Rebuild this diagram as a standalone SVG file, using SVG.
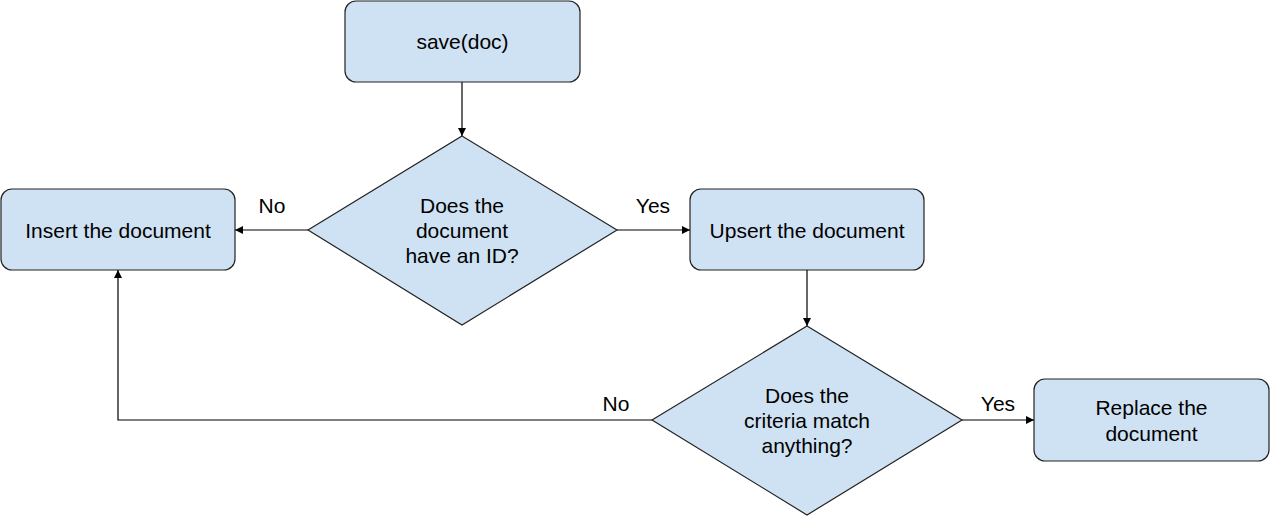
<svg xmlns="http://www.w3.org/2000/svg" width="1270" height="516" viewBox="0 0 1270 516">
<style>
.n{fill:#cfe2f3;stroke:#222;stroke-width:1.2}
.t{font-family:"Liberation Sans",Arial,sans-serif;font-size:21px;fill:#000;text-anchor:middle}
.c{fill:none;stroke:#000;stroke-width:1.2;marker-end:url(#a)}
</style>
<defs>
<marker id="a" viewBox="0 0 10 10" refX="10" refY="5" markerWidth="8" markerHeight="8" markerUnits="userSpaceOnUse" orient="auto"><path d="M0,0L10,5L0,10z" fill="#000"/></marker>
</defs>
<rect width="1270" height="516" fill="#fff"/>
<g id="connectors">
<path class="c" d="M462,82V136"/>
<path class="c" d="M308,230H235"/>
<path class="c" d="M617,230H690"/>
<path class="c" d="M807,270V326"/>
<path class="c" d="M652,420H118V270"/>
<path class="c" d="M962,420H1034"/>
<text class="t" x="272" y="213">No</text>
<text class="t" x="653" y="213">Yes</text>
<text class="t" x="616" y="411">No</text>
<text class="t" x="998" y="411">Yes</text>
</g>
<g id="save"><rect class="n" x="345" y="1" width="235" height="81" rx="11"/><text class="t" x="462.5" y="49">save(doc)</text></g>
<g id="hasId"><path class="n" d="M462,136L617,230L462,325L308,230z"/><text class="t" x="462" y="213">Does the</text><text class="t" x="462" y="238">document</text><text class="t" x="462" y="263">have an ID?</text></g>
<g id="insert"><rect class="n" x="1" y="189" width="234" height="81" rx="11"/><text class="t" x="118" y="238">Insert the document</text></g>
<g id="upsert"><rect class="n" x="690" y="189" width="234" height="81" rx="11"/><text class="t" x="807" y="238">Upsert the document</text></g>
<g id="match"><path class="n" d="M807,326L962,420L807,515L652,420z"/><text class="t" x="807" y="403">Does the</text><text class="t" x="807" y="428">criteria match</text><text class="t" x="807" y="453">anything?</text></g>
<g id="replace"><rect class="n" x="1034" y="379" width="235" height="82" rx="11"/><text class="t" x="1151.5" y="415">Replace the</text><text class="t" x="1151.5" y="441">document</text></g>
</svg>
